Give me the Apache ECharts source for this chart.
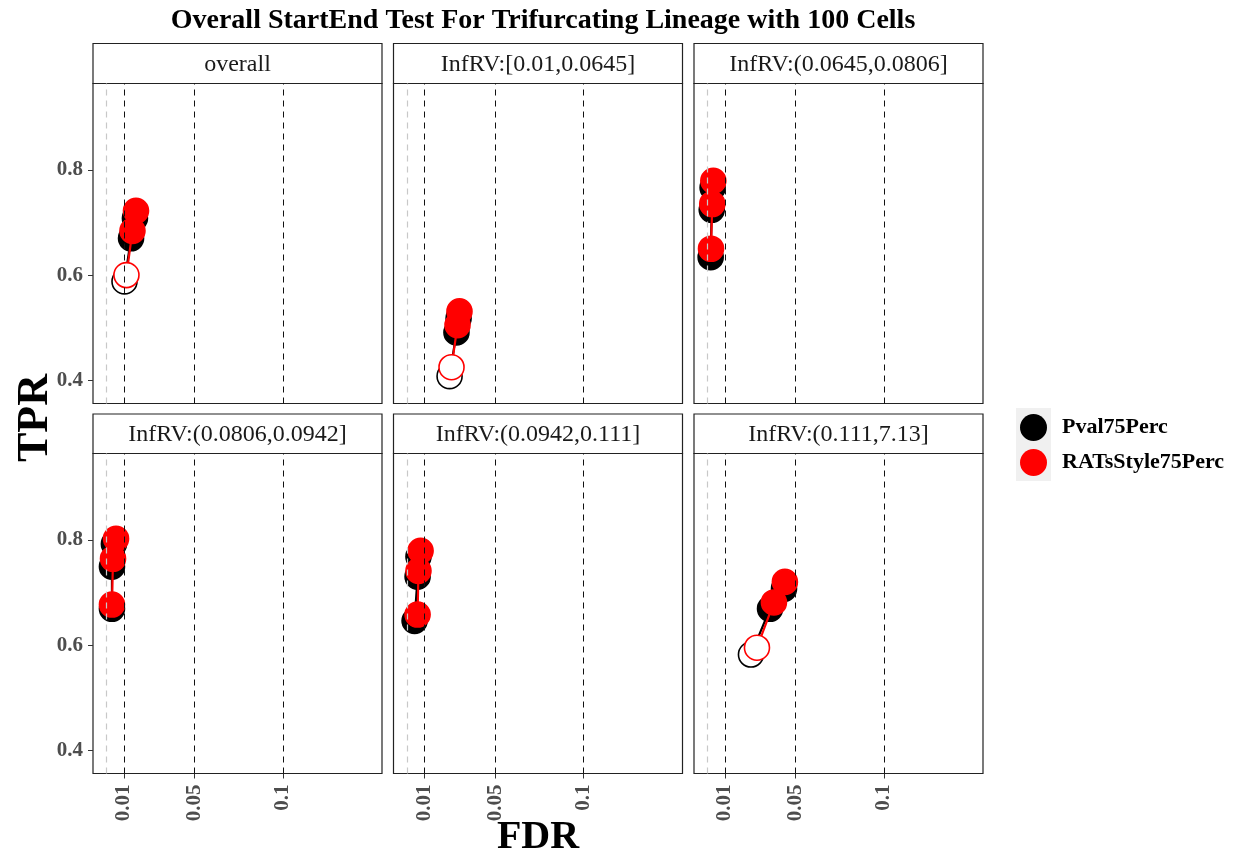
<!DOCTYPE html>
<html><head><meta charset="utf-8">
<script src="https://cdn.jsdelivr.net/npm/echarts@6/dist/echarts.min.js"></script>
<style>html,body{margin:0;padding:0;background:#fff}#c{width:1239px;height:860px}</style>
</head><body><div id="c"></div>
<script>
const panelNames = ['overall', 'InfRV:[0.01,0.0645]', 'InfRV:(0.0645,0.0806]', 'InfRV:(0.0806,0.0942]', 'InfRV:(0.0942,0.111]', 'InfRV:(0.111,7.13]'];
const fdrThresholds = [0.01, 0.05, 0.1];
const xTickLabels = ['0.01', '0.05', '0.1'];
const yTicks = [0.4, 0.6, 0.8];
const seriesNames = ['Pval75Perc', 'RATsStyle75Perc'];
const pvalFDR = [[0.0103,0.014,0.0162],[0.0242,0.0281,0.0293],[0.0019,0.0025,0.003],[0.0032,0.0032,0.0043],[0.0044,0.0061,0.0066],[0.0247,0.0355,0.0434]];
const pvalTPR = [[0.588,0.670,0.708],[0.408,0.491,0.518],[0.634,0.724,0.766],[0.669,0.749,0.792],[0.646,0.730,0.768],[0.582,0.669,0.707]];
const ratsFDR = [[0.0114,0.0148,0.0168],[0.0253,0.0287,0.0298],[0.0021,0.0028,0.0034],[0.0032,0.0038,0.0055],[0.0061,0.0066,0.0078],[0.0281,0.0377,0.0439]];
const ratsTPR = [[0.600,0.684,0.722],[0.425,0.505,0.531],[0.650,0.735,0.779],[0.677,0.764,0.802],[0.658,0.741,0.779],[0.595,0.681,0.720]];

const colors = ['#000000', '#ff0000'];
const FONT = '"Liberation Serif", "DejaVu Serif", serif';
const colLeft = [93, 393.5, 694];
const rowTop = [83.5, 453.5];
const stripTop = [43.5, 414];
const W = 289, H = 320;

const grids = [], xAxes = [], yAxes = [], series = [], graphics = [];
for (let p = 0; p < 6; p++) {
  const r = Math.floor(p / 3), c = p % 3;
  grids.push({left: colLeft[c], top: rowTop[r], width: W, height: H, show: true, borderColor: '#222', borderWidth: 1.2, backgroundColor: '#fff'});
  xAxes.push({
    type: 'value', gridIndex: p, min: -0.00753, max: 0.156,
    splitLine: {show: false}, axisLine: {show: false, onZero: false},
    axisTick: {show: r === 1, customValues: fdrThresholds, length: 5, lineStyle: {color: '#333'}},
    axisLabel: {show: r === 1, customValues: fdrThresholds, rotate: 90, margin: 11,
      formatter: v => { const i = fdrThresholds.findIndex(t => Math.abs(t - v) < 1e-9); return i >= 0 ? xTickLabels[i] : ''; },
      color: '#4d4d4d', fontFamily: FONT, fontWeight: 'bold', fontSize: 21}
  });
  yAxes.push({
    type: 'value', gridIndex: p, min: 0.356, max: 0.964,
    splitLine: {show: false}, axisLine: {show: false, onZero: false},
    axisTick: {show: c === 0, customValues: yTicks, length: 5, lineStyle: {color: '#333'}},
    axisLabel: {show: c === 0, customValues: yTicks, margin: 10, formatter: v => v.toFixed(1),
      color: '#4d4d4d', fontFamily: FONT, fontWeight: 'bold', fontSize: 21}
  });
  // threshold lines
  series.push({
    type: 'line', xAxisIndex: p, yAxisIndex: p, data: [], silent: true, z: 1,
    markLine: {silent: true, symbol: 'none', label: {show: false},
      data: [{xAxis: 0.0002, lineStyle: {color: '#c8c8c8', type: [6, 5], width: 1.2}}]
        .concat(fdrThresholds.map(t => ({xAxis: t, lineStyle: {color: '#111', type: [6, 5], width: 1}})))}
  });
  const sets = [[pvalFDR[p], pvalTPR[p]], [ratsFDR[p], ratsTPR[p]]];
  sets.forEach((s, k) => {
    const data = s[0].map((f, i) => {
      const open = f > fdrThresholds[i];
      return {value: [f, s[1][i]], itemStyle: {color: open ? '#ffffff' : colors[k], borderColor: colors[k], borderWidth: 1.6}};
    });
    series.push({
      name: seriesNames[k], type: 'line', xAxisIndex: p, yAxisIndex: p, data: data,
      symbol: 'circle', symbolSize: 25, showSymbol: true, z: 3 + k,
      lineStyle: {color: colors[k], width: 2.2}, itemStyle: {color: colors[k]},
      emphasis: {disabled: true}, animation: false
    });
  });
  // strip
  graphics.push({type: 'rect', shape: {x: colLeft[c], y: stripTop[r], width: W, height: rowTop[r] - stripTop[r]},
    style: {fill: '#fff', stroke: '#222', lineWidth: 1.2}});
  graphics.push({type: 'text', x: colLeft[c] + W / 2, y: (stripTop[r] + rowTop[r]) / 2 + 1,
    style: {text: panelNames[p], fill: '#1a1a1a', font: '24px ' + FONT, align: 'center', verticalAlign: 'middle'}});
}
graphics.push({type: 'rect', z: -1, shape: {x: 1016, y: 408, width: 35, height: 73}, style: {fill: '#f0f0f0'}});
graphics.push({type: 'text', x: 538, y: 838, style: {text: 'FDR', fill: '#000', font: 'bold 40px ' + FONT, align: 'center', verticalAlign: 'middle'}});
graphics.push({type: 'text', x: 36, y: 418, rotation: Math.PI / 2, style: {text: 'TPR', fill: '#000', font: 'bold 44px ' + FONT, align: 'center', verticalAlign: 'middle'}});

const chart = echarts.init(document.getElementById('c'), null, {renderer: 'canvas'});
chart.setOption({
  animation: false,
  backgroundColor: '#fff',
  title: {text: 'Overall StartEnd Test For Trifurcating Lineage with 100 Cells', left: 538, textAlign: 'center', top: 2,
    textStyle: {fontFamily: FONT, fontWeight: 'bold', fontSize: 28, color: '#000'}},
  legend: {data: seriesNames, orient: 'vertical', left: 1020, top: 414, padding: 0, icon: 'circle', itemWidth: 27, itemHeight: 27, itemGap: 8,
    textStyle: {fontFamily: FONT, fontWeight: 'bold', fontSize: 22, color: '#000', padding: [0, 0, 0, 10]},
    itemStyle: {borderWidth: 0}},
  grid: grids, xAxis: xAxes, yAxis: yAxes, series: series, graphic: graphics
});
</script></body></html>
